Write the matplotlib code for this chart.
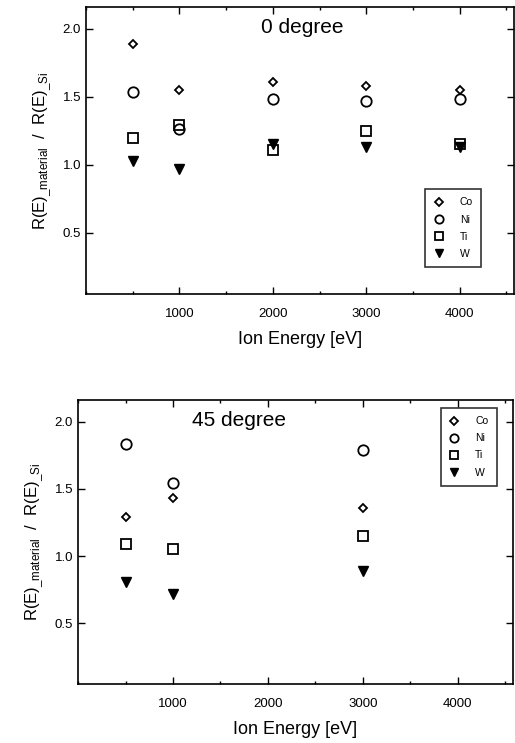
import matplotlib.pyplot as plt
from matplotlib.ticker import MultipleLocator

plt.rcParams['font.family'] = ['Liberation Sans', 'DejaVu Sans']
plt.rcParams['mathtext.fontset'] = 'custom'
plt.rcParams['mathtext.rm'] = 'Liberation Sans'

# 0 degree panel
energy_0 = [500, 1000, 2000, 3000, 4000]
co_0 = [1.885, 1.55, 1.605, 1.58, 1.55]
ni_0 = [1.535, 1.26, 1.48, 1.47, 1.48]
ti_0 = [1.20, 1.29, 1.11, 1.25, 1.15]
w_0 = [1.03, 0.97, 1.15, 1.13, 1.13]

# 45 degree panel
energy_45 = [500, 1000, 3000]
co_45 = [1.29, 1.43, 1.36]
ni_45 = [1.83, 1.545, 1.79]
ti_45 = [1.09, 1.05, 1.15]
w_45 = [0.81, 0.72, 0.89]

materials = ['Co', 'Ni', 'Ti', 'W']
markers = ['D', 'o', 's', 'v']
msizes = [4.5, 7.5, 7.5, 7.5]

ylab = r'R(E)$_{\_\mathrm{material}}$  /  R(E)$_{\_\mathrm{Si}}$'

fig = plt.figure(figsize=(5.15, 7.43), dpi=100)
ax1 = fig.add_axes([0.167, 0.6043, 0.831, 0.3863])
ax2 = fig.add_axes([0.1515, 0.0794, 0.8445, 0.3822])

panels = [
    (ax1, energy_0, [co_0, ni_0, ti_0, w_0], '0 degree', (0.505, 0.96), (0.793, 0.094), 'lower left'),
    (ax2, energy_45, [co_45, ni_45, ti_45, w_45], '45 degree', (0.37, 0.96), (0.834, 0.972), 'upper left'),
]

for ax, x, series, title, tpos, lpos, lloc in panels:
    for vals, name, m, ms in zip(series, materials, markers, msizes):
        filled = name == 'W'
        ax.plot(x, vals, linestyle='none', marker=m, markersize=ms,
                markerfacecolor='black' if filled else 'none',
                markeredgecolor='black', markeredgewidth=1.3 if not filled else 1,
                label=name)
    ax.set_xlim(0, 4580)
    ax.set_ylim(0.05, 2.16)
    ax.xaxis.set_minor_locator(MultipleLocator(500))
    ax.set_xticks([1000, 2000, 3000, 4000])
    ax.set_yticks([0.5, 1.0, 1.5, 2.0])
    ax.tick_params(which='both', direction='in', top=True, right=True, labelsize=9.5, width=1)
    ax.tick_params(which='major', length=5)
    ax.tick_params(which='minor', length=2.5)
    ax.tick_params(axis='x', which='major', pad=10)
    for s in ax.spines.values():
        s.set_linewidth(1.2)
    ax.set_xlabel('Ion Energy [eV]', fontsize=13, labelpad=8)
    ax.set_ylabel(ylab, fontsize=12, labelpad=6)
    ax.text(tpos[0], tpos[1], title, transform=ax.transAxes, fontsize=15,
            ha='center', va='top')
    leg = ax.legend(loc=lloc, bbox_to_anchor=lpos, fontsize=7.5, frameon=True,
                    fancybox=False, edgecolor='black', handletextpad=1.5,
                    handlelength=1.0, borderpad=0.8, labelspacing=0.68,
                    borderaxespad=0, markerscale=0.8)
    leg.get_frame().set_linewidth(1.2)

fig.savefig('out.png', dpi=100)
